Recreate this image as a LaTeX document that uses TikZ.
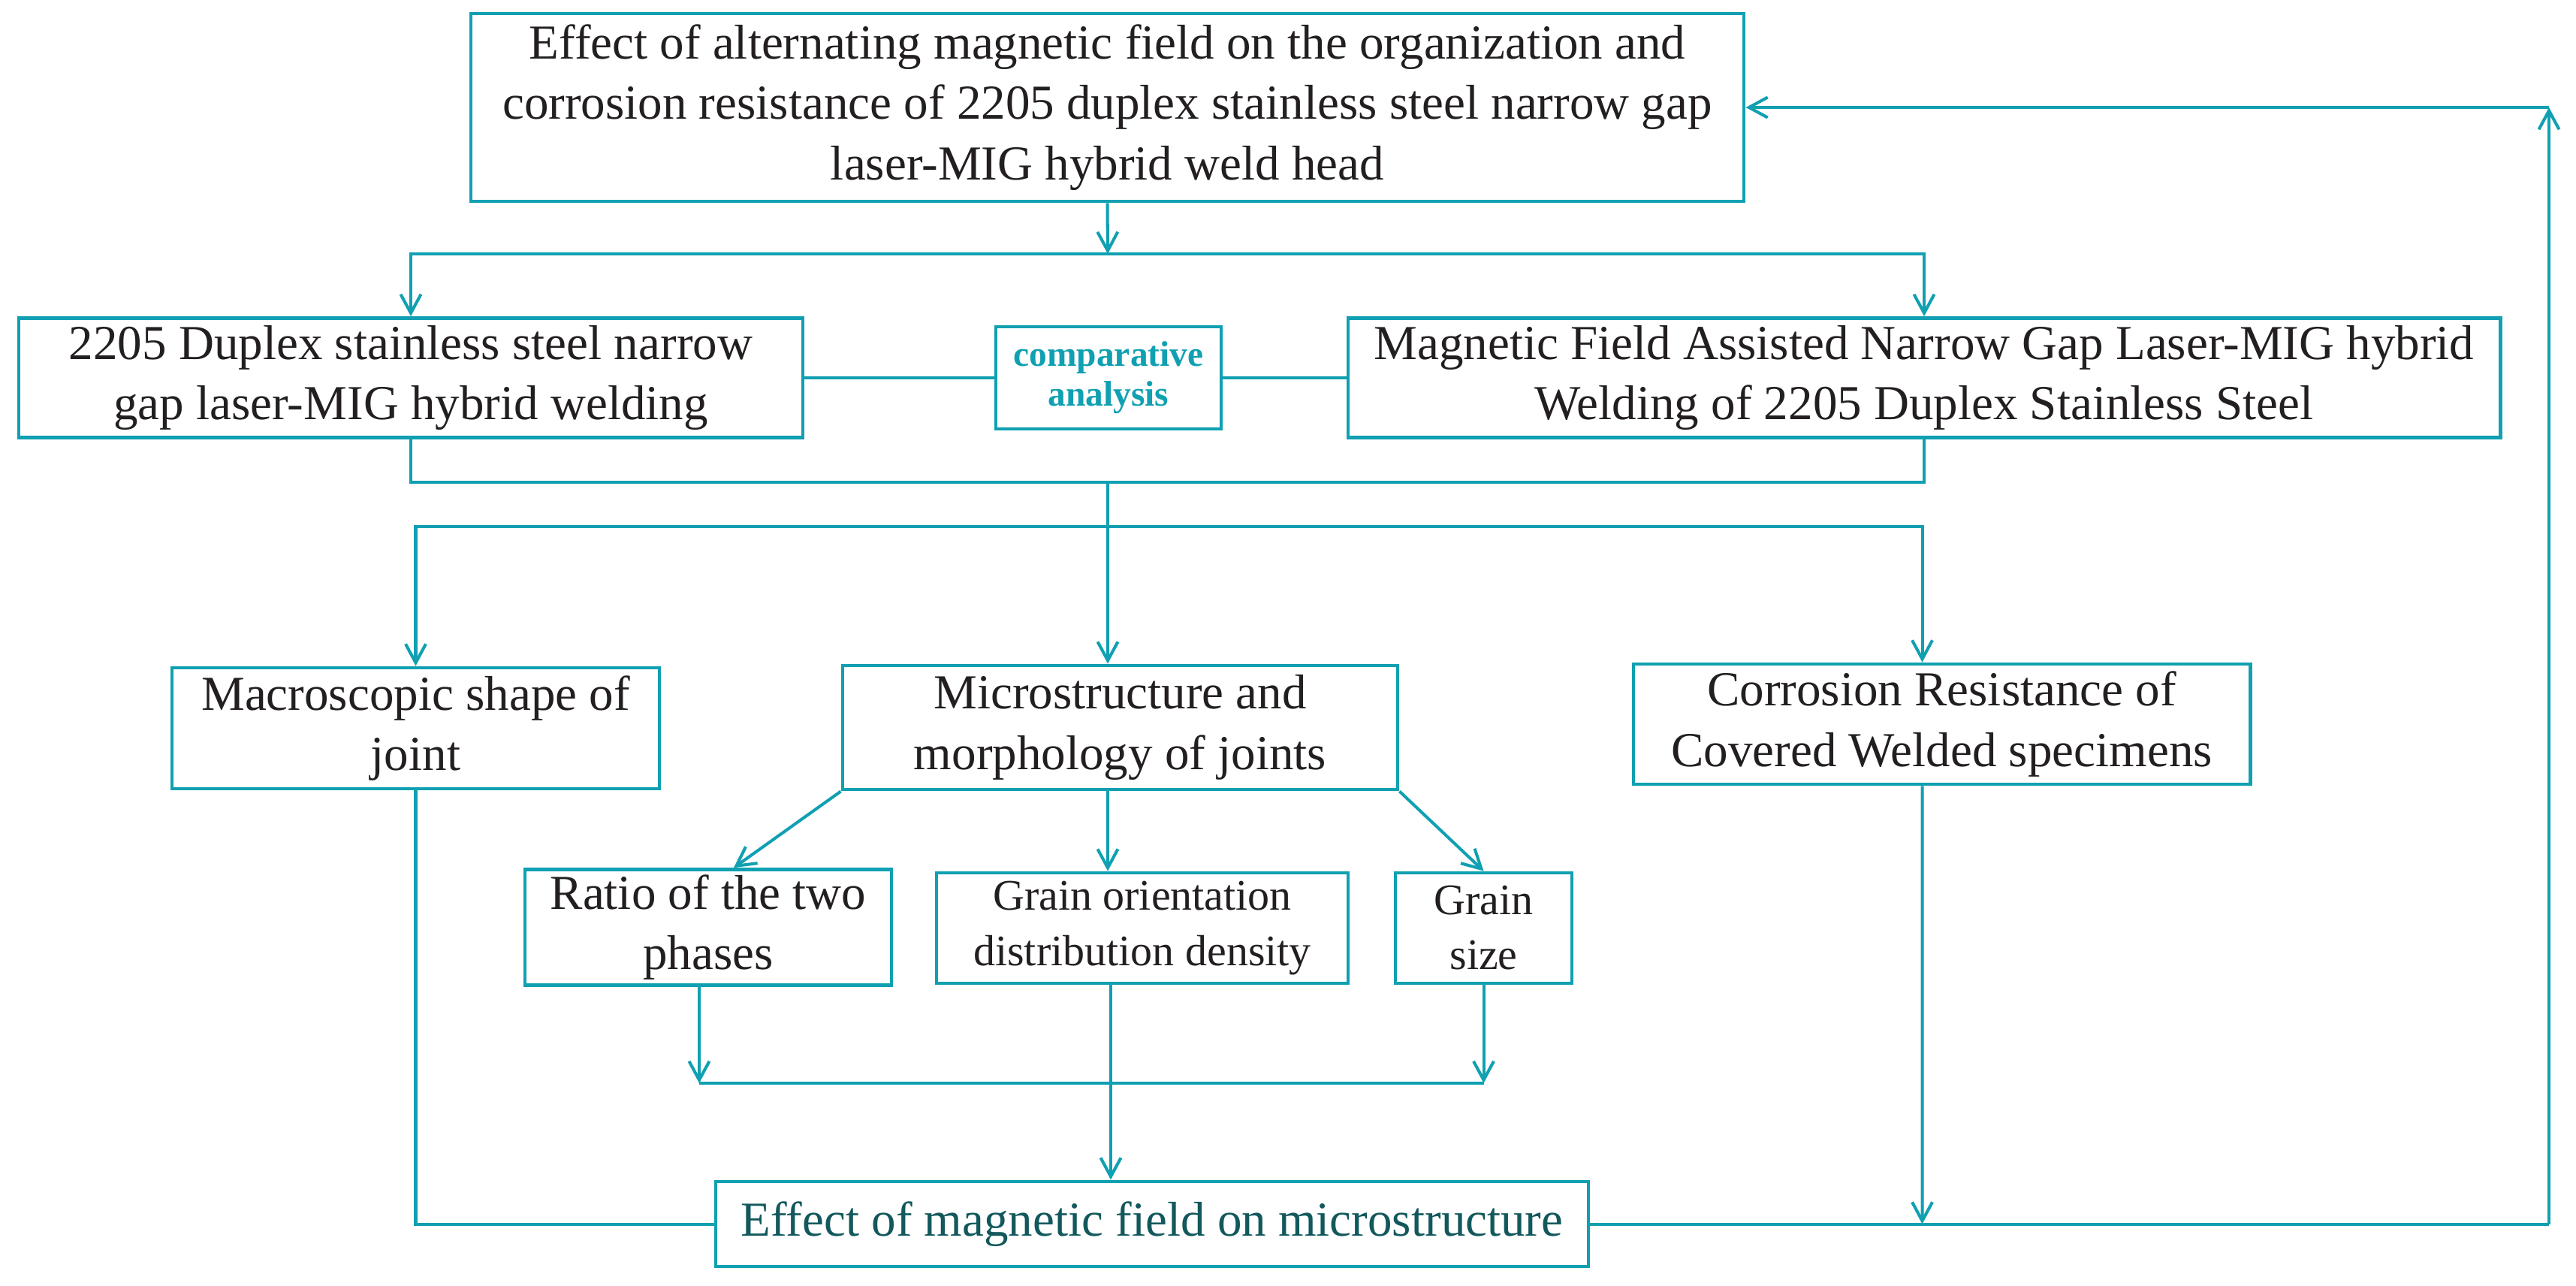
\documentclass[tikz,border=0pt]{standalone}
\usepackage{fontspec}
\setmainfont{Liberation Serif}
\usepackage{tikz}
\usetikzlibrary{arrows.meta}
\definecolor{teal1}{RGB}{16,160,178}
\definecolor{ink}{RGB}{35,31,32}
\definecolor{deepteal}{RGB}{18,88,92}

\begin{document}
\begin{tikzpicture}[
  box/.style={draw=teal1, line width=1.4pt, rectangle, align=center, text=ink, inner sep=2pt, font=\fontsize{18.5}{22.8}\selectfont},
  small/.style={box, font=\fontsize{16.5}{20.8}\selectfont},
  cmp/.style={box, text=teal1, font=\fontsize{13.5}{15}\selectfont\bfseries},
  link/.style={draw=teal1, line width=1.15pt},
  >={Straight Barb[length=2.5mm,width=2.7mm]}
]
\useasboundingbox (0cm,0cm) rectangle (34.30cm,-17.11cm);
% boxes
\node[box, minimum width=16.95cm, minimum height=2.50cm] (1) at (14.745cm,-1.43cm) {Effect of alternating magnetic field on the organization and\\corrosion resistance of 2205 duplex stainless steel narrow gap\\laser-MIG hybrid weld head};
\node[box, minimum width=10.44cm, minimum height=1.59cm] (2) at (5.47cm,-5.03cm) {2205 Duplex stainless steel narrow\\gap laser-MIG hybrid welding};
\node[cmp, minimum width=3.00cm, minimum height=1.36cm] (3) at (14.76cm,-5.03cm) {comparative\\analysis};
\node[box, minimum width=15.34cm, minimum height=1.59cm] (4) at (25.62cm,-5.03cm) {Magnetic Field Assisted Narrow Gap Laser-MIG hybrid\\Welding of 2205 Duplex Stainless Steel};
\node[box, minimum width=6.49cm, minimum height=1.61cm] (5) at (5.535cm,-9.695cm) {Macroscopic shape of\\joint};
\node[box, minimum width=7.39cm, minimum height=1.65cm] (6) at (14.915cm,-9.685cm) {Microstructure and\\morphology of joints};
\node[box, minimum width=8.21cm, minimum height=1.60cm] (7) at (25.855cm,-9.64cm) {Corrosion Resistance of\\Covered Welded specimens};
\node[box, minimum width=4.88cm, minimum height=1.49cm] (8) at (9.43cm,-12.345cm) {Ratio of the two\\phases};
\node[small, minimum width=5.48cm, minimum height=1.47cm] (9) at (15.21cm,-12.355cm) {Grain orientation\\distribution density};
\node[small, minimum width=2.35cm, minimum height=1.47cm] (10) at (19.755cm,-12.355cm) {Grain\\size};
\node[box, text=deepteal, minimum width=11.62cm, minimum height=1.13cm] (11) at (15.34cm,-16.295cm) {Effect of magnetic field on microstructure};
% junctions
\coordinate (a) at (14.75cm,-3.38cm);
\coordinate (b) at (14.75cm,-6.42cm);
\coordinate (c) at (14.75cm,-7.01cm);
\coordinate (d) at (14.79cm,-14.42cm);
\coordinate (e) at (25.595cm,-16.295cm);
\coordinate (f) at (33.94cm,-16.295cm);
\coordinate (g) at (33.94cm,-1.43cm);
% connectors
\draw[link,->] (1.south) -- (a);
\draw[link,->] (a) -| (2.north);
\draw[link,->] (a) -| (4.north);
\draw[link] (2.east) -- (3.west);
\draw[link] (3.east) -- (4.west);
\draw[link] (2.south) |- (b) -| (4.south);
\draw[link] (b) -- (c);
\draw[link,->] (c) -| (5.north);
\draw[link,->] (c) -- (c |- 6.north);
\draw[link,->] (c) -| ([xshift=-2.6mm]7.north);
\draw[link,->] (6.south west) -- ([xshift=3.4mm]8.north);
\draw[link,->] (c |- 6.south) -- (c |- 9.north);
\draw[link,->] (6.south east) -- (10.north);
\draw[link,->] ([xshift=-1.2mm]8.south) -- ([xshift=-1.2mm]8.south |- d);
\draw[link,->] (10.south) -- (10.south |- d);
\draw[link] ([xshift=-1.2mm]8.south |- d) -- (10.south |- d);
\draw[link,->] (d |- 9.south) -- (d |- 11.north);
\draw[link] (5.south) |- (11.west);
\draw[link,->] ([xshift=-2.6mm]7.south) -- (e);
\draw[link] (11.east) -- (f);
\draw[link,->] (f) -- (g);
\draw[link,->] (g) -- (1.east);
\end{tikzpicture}
\end{document}
